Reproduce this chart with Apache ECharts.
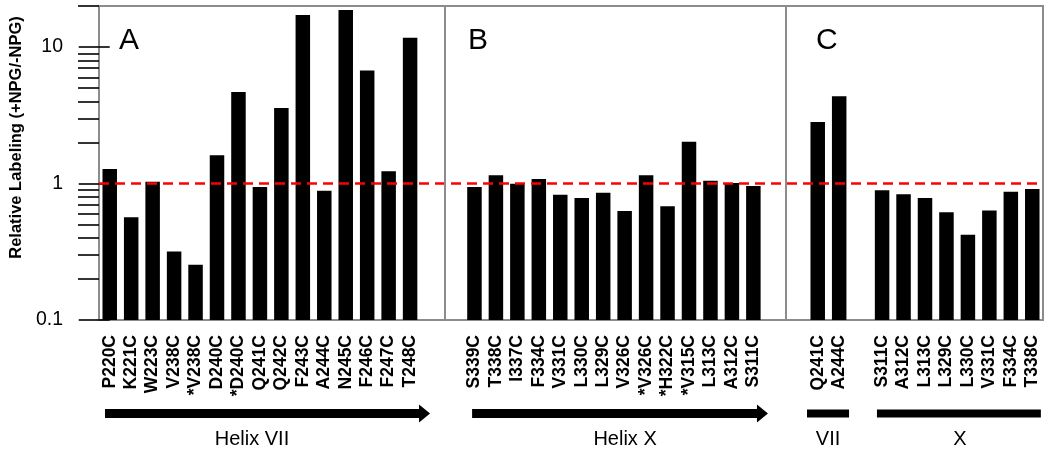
<!DOCTYPE html>
<html>
<head>
<meta charset="utf-8">
<script src="https://cdn.jsdelivr.net/npm/echarts@6/dist/echarts.min.js"></script>
<style>
  html, body { margin: 0; padding: 0; background: #fff; }
  #chart { width: 1050px; height: 453px; }
</style>
</head>
<body>
<div id="chart"></div>
<script>
// panel A - helix VII mutants
const helixVIILabels = ['P220C', 'K221C', 'W223C', 'V238C', '*V238C', 'D240C', '*D240C', 'Q241C',
  'Q242C', 'F243C', 'A244C', 'N245C', 'F246C', 'F247C', 'T248C'];
const helixVIIValues = [1.28, 0.567, 1.03, 0.318, 0.254, 1.61, 4.68, 0.943, 3.57, 17.2, 0.886, 18.7, 6.74, 1.23, 11.7];

// panel B - helix X mutants
const helixXLabels = ['S339C', 'T338C', 'I337C', 'F334C', 'V331C', 'L330C', 'L329C', 'V326C',
  '*V326C', '*H322C', '*V315C', 'L313C', 'A312C', 'S311C'];
const helixXValues = [0.943, 1.15, 0.997, 1.08, 0.828, 0.784, 0.857, 0.63, 1.15, 0.682, 2.02, 1.05, 1.01, 0.959];

// panel C - VII and X (blank slot between the two groups)
const panelCLabels = ['Q241C', 'A244C', '', 'S311C', 'A312C', 'L313C', 'L329C', 'L330C', 'V331C', 'F334C', 'T338C'];
const panelCValues = [2.83, 4.37, '-', 0.892, 0.834, 0.784, 0.616, 0.421, 0.634, 0.871, 0.911];

const majorTicks = [0.1, 1, 10];
const minorTicks = [0.2, 0.3, 0.4, 0.5, 0.6, 0.7, 0.8, 0.9, 2, 3, 4, 5, 6, 7, 8, 9, 20];
const panelBreaks = [15.63, 31.5];   // separators, in slot units
const panelLetters = ['A', 'B', 'C'];

const FONT = 'Liberation Sans, Arial, Helvetica, sans-serif';

const categories = [...helixVIILabels, '', '', ...helixXLabels, '', '', ...panelCLabels];
const values = [...helixVIIValues, '-', '-', ...helixXValues, '-', '-', ...panelCValues];

const chart = echarts.init(document.getElementById('chart'));

const yBase = {
  type: 'log',
  logBase: 10,
  min: 0.1,
  max: 20,
  startValue: 0.1,
  position: 'left',
  axisLine: { show: false },
  splitLine: { show: false },
  minorTick: { show: false }
};

chart.setOption({
  animation: false,
  grid: {
    left: 99, right: 7, top: 6, bottom: 133,
    show: true, borderColor: '#8c8c8c', borderWidth: 2
  },
  xAxis: [{
    type: 'category',
    data: categories,
    boundaryGap: true,
    axisLine: { show: false },
    axisTick: { show: false },
    axisLabel: {
      interval: 0, rotate: 90, margin: 15,
      fontFamily: FONT, fontWeight: 'bold', fontSize: 17.5, color: '#000'
    }
  }, {
    type: 'value',
    min: -0.5, max: 43.5,
    show: false
  }],
  yAxis: [Object.assign({}, yBase, {
    name: 'Relative Labeling (+NPG/-NPG)',
    nameLocation: 'middle',
    nameGap: 74,
    nameTextStyle: { fontFamily: FONT, fontWeight: 'bold', fontSize: 16.5, color: '#000', padding: [0, 0, 0, 51] },
    axisTick: { show: true, length: 31, customValues: majorTicks, lineStyle: { color: '#000', width: 1.6 } },
    axisLabel: { customValues: majorTicks, margin: 36, fontFamily: FONT, fontSize: 19.5, color: '#000',
      formatter: v => String(v) }
  }), Object.assign({}, yBase, {
    axisTick: { show: true, length: 21, customValues: minorTicks, lineStyle: { color: '#000', width: 1.6 } },
    axisLabel: { show: false }
  })],
  series: [{
    // reference line at 1, drawn under the bars
    type: 'line',
    data: [],
    z: 1,
    markLine: {
      silent: true, symbol: 'none', label: { show: false },
      lineStyle: { color: '#ff0000', width: 2.5, type: [10, 6] },
      data: [{ yAxis: 1 }]
    }
  }, {
    // panel separators
    type: 'line',
    xAxisIndex: 1,
    data: [],
    z: 1,
    markLine: {
      silent: true, symbol: 'none', label: { show: false },
      lineStyle: { color: '#8c8c8c', width: 2, type: 'solid' },
      data: panelBreaks.map(b => ({ xAxis: b }))
    }
  }, {
    type: 'bar',
    data: values,
    barWidth: 14.5,
    z: 2,
    itemStyle: { color: '#000' }
  }]
});

// bottom annotations, positions in slot units on the hidden value axis
const spans = [
  { from: -0.22, to: 14.93, mid: 6.63, text: 'Helix VII', arrow: true },
  { from: 16.89, to: 30.68, mid: 24.02, text: 'Helix X', arrow: true },
  { from: 32.5, to: 34.46, mid: 33.48, text: 'VII', arrow: false },
  { from: 35.76, to: 43.4, mid: 39.63, text: 'X', arrow: false }
];
const px = v => chart.convertToPixel({ xAxisIndex: 1 }, v);
const barY = 413.5, textY = 439;
const graphics = [];
spans.forEach(s => {
  const x1 = px(s.from), x2 = px(s.to);
  if (s.arrow) {
    graphics.push({
      type: 'polygon',
      shape: { points: [[x1, barY - 4.5], [x2 - 11, barY - 4.5], [x2 - 11, barY - 9], [x2, barY],
        [x2 - 11, barY + 9], [x2 - 11, barY + 4.5], [x1, barY + 4.5]] },
      style: { fill: '#000' }
    });
  } else {
    graphics.push({ type: 'rect', shape: { x: x1, y: barY - 4, width: x2 - x1, height: 8 }, style: { fill: '#000' } });
  }
  graphics.push({
    type: 'text', x: px(s.mid), y: textY,
    style: { text: s.text, fontFamily: FONT, fontSize: 20, fill: '#000', align: 'center', verticalAlign: 'middle' }
  });
});
const letterX = [119, 468, 816];
panelLetters.forEach((t, i) => {
  graphics.push({
    type: 'text', x: letterX[i], y: 41,
    style: { text: t, fontFamily: FONT, fontSize: 30, fill: '#000', align: 'left', verticalAlign: 'middle' }
  });
});
chart.setOption({ graphic: graphics });
</script>
</body>
</html>
